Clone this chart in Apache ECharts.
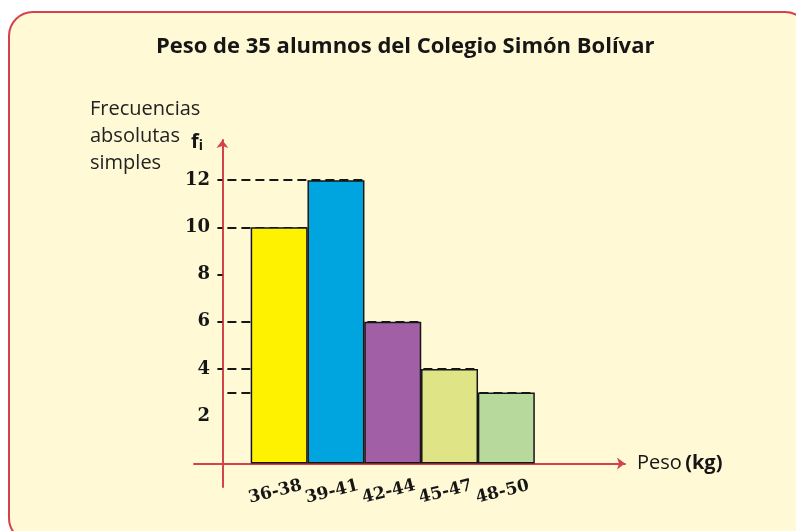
<!DOCTYPE html>
<html>
<head>
<meta charset="utf-8">
<title>Peso de 35 alumnos del Colegio Simón Bolívar</title>
<script src="https://cdn.jsdelivr.net/npm/echarts@6/dist/echarts.min.js"></script>
<style>
  html, body { margin: 0; padding: 0; background: #ffffff; }
  #chart { width: 796px; height: 531px; }
</style>
</head>
<body>
<div id="chart"></div>
<script>
// Weight classes (kg) and how many students fall in each one
const categories = ['36-38', '39-41', '42-44', '45-47', '48-50'];
const frequencies = [10, 12, 6, 4, 3];
// Labelled values on the frequency axis
const yTickLabels = [2, 4, 6, 8, 10, 12];
const yTickMarks = [4, 6, 8, 10, 12];

// One fill per class
const barColors = ['#fff200', '#00a4de', '#a160a6', '#dfe486', '#b7d99b'];

const axisRed = '#d4424c';
const ink = '#161616';
const labelFont = '"DejaVu Serif", serif';
const textFont = '"Open Sans", sans-serif';

// Bars sit at x = 1..5 on a value axis so the vertical axis can cross at x = 0
const barData = frequencies.map((v, i) => ({
  value: [i + 1, v],
  itemStyle: { color: barColors[i] }
}));

// Dashed guide from the vertical axis to the right edge of each bar
const guideLines = frequencies.map((v, i) => [
  { coord: [0, v] },
  { coord: [i + 1.5, v] }
]);

const chart = echarts.init(document.getElementById('chart'), null, { renderer: 'canvas' });

chart.setOption({
  backgroundColor: '#ffffff',
  animation: false,
  graphic: [{
    type: 'rect',
    z: -10,
    silent: true,
    shape: { x: 9, y: 12, width: 800, height: 530, r: 24 },
    style: { fill: '#fff9d6', stroke: axisRed, lineWidth: 2 }
  }],
  title: [
    {
      text: 'Peso de 35 alumnos del Colegio Simón Bolívar',
      left: 151, top: 31,
      textStyle: { fontFamily: textFont, fontWeight: 'bold', fontSize: 22, color: ink }
    },
    {
      text: 'Frecuencias\nabsolutas\nsimples',
      left: 85, top: 91,
      textStyle: { fontFamily: textFont, fontWeight: 'normal', fontSize: 20, lineHeight: 27, color: '#222' }
    },
    {
      text: '{f|f}{i|i}',
      left: 186, top: 126,
      textStyle: {
        rich: {
          f: { fontFamily: textFont, fontWeight: 'bold', fontSize: 20, color: ink },
          i: { fontFamily: textFont, fontWeight: 'bold', fontSize: 14, color: ink, padding: [8, 0, 0, 0] }
        }
      }
    }
  ],
  grid: { left: 194, right: 171, top: 140, bottom: 44, containLabel: false },
  xAxis: {
    type: 'value',
    min: -0.5,
    max: 7.09,
    splitLine: { show: false },
    axisTick: { show: false },
    axisLine: {
      onZero: true,
      symbol: ['none', 'arrow'],
      symbolSize: [9, 8],
      lineStyle: { color: axisRed, width: 2 }
    },
    axisLabel: {
      customValues: [1, 2, 3, 4, 5],
      formatter: v => categories[Math.round(v) - 1] || '',
      hideOverlap: false,
      showMinLabel: true,
      showMaxLabel: true,
      rotate: 14,
      align: 'center',
      verticalAlign: 'middle',
      margin: 4,
      padding: [0, 8, 0, 0],
      fontFamily: labelFont,
      fontWeight: 'bold',
      fontSize: 17,
      color: ink
    },
    name: '{r|Peso} {b|(kg)}',
    nameLocation: 'end',
    nameGap: 12,
    nameTextStyle: {
      rich: {
        r: { fontFamily: textFont, fontSize: 20, color: ink },
        b: { fontFamily: textFont, fontSize: 20, fontWeight: 'bold', color: ink }
      }
    }
  },
  yAxis: {
    type: 'value',
    min: -1,
    max: 13.7,
    splitLine: { show: false },
    axisLine: {
      onZero: true,
      symbol: ['none', 'arrow'],
      symbolSize: [9, 8],
      lineStyle: { color: axisRed, width: 2 }
    },
    axisTick: {
      customValues: yTickMarks,
      length: 5,
      lineStyle: { color: ink, width: 2 }
    },
    axisLabel: {
      customValues: yTickLabels,
      hideOverlap: false,
      margin: -16,
      fontFamily: labelFont,
      fontWeight: 'bold',
      fontSize: 18,
      color: ink
    }
  },
  series: [
    {
      type: 'bar',
      z: 3,
      barWidth: 57,
      data: barData,
      itemStyle: { borderColor: ink, borderWidth: 1.5 },
      markLine: {
        z: 1,
        silent: true,
        symbol: ['none', 'none'],
        label: { show: false },
        lineStyle: { color: ink, width: 2, type: [9, 5], dashOffset: -5 },
        emphasis: { disabled: true },
        data: guideLines
      }
    }
  ]
});
</script>
</body>
</html>
